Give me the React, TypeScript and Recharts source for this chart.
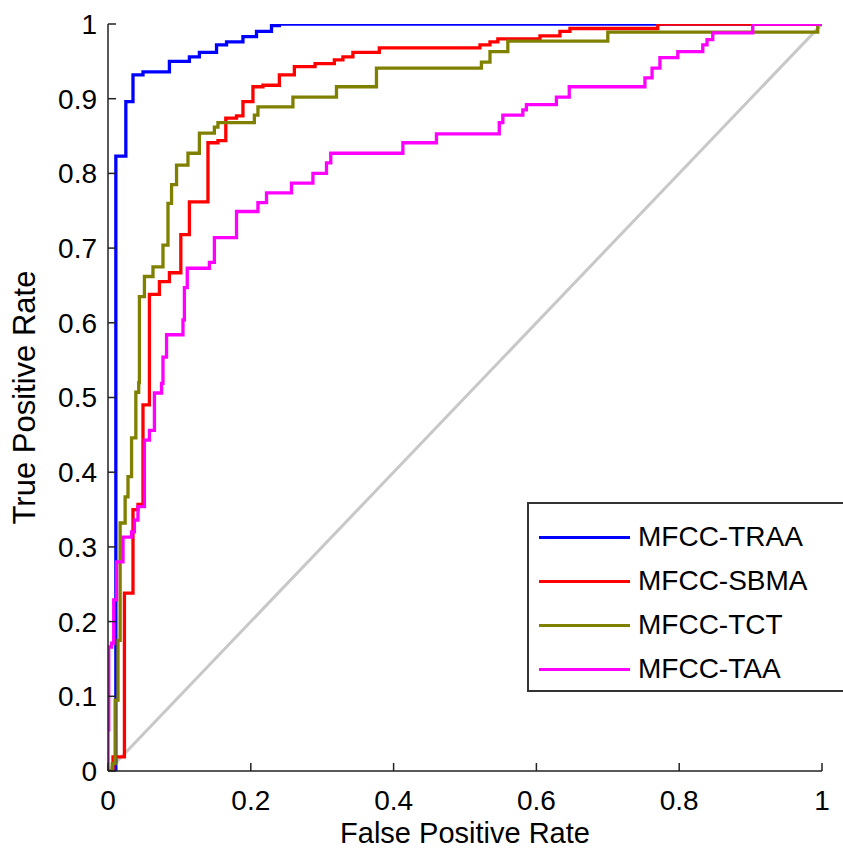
import { LineChart, Line, XAxis, YAxis, Legend } from 'recharts';

// ROC corner points [fpr, tpr]; drawn as stepAfter staircases
const traa = [
  [0, 0], [0.011, 0.823], [0.025, 0.896], [0.035, 0.932], [0.049, 0.936],
  [0.086, 0.95], [0.114, 0.956], [0.128, 0.962], [0.152, 0.972], [0.166, 0.976],
  [0.189, 0.983], [0.208, 0.99], [0.229, 0.998], [0.24, 1], [1, 1],
];

const sbma = [
  [0, 0], [0.007, 0.019], [0.023, 0.238], [0.035, 0.35], [0.042, 0.357],
  [0.049, 0.49], [0.058, 0.638], [0.072, 0.655], [0.086, 0.667], [0.102, 0.718],
  [0.114, 0.762], [0.14, 0.841], [0.154, 0.844], [0.165, 0.874], [0.18, 0.877],
  [0.189, 0.896], [0.203, 0.916], [0.217, 0.918], [0.24, 0.932], [0.261, 0.943],
  [0.29, 0.947], [0.317, 0.952], [0.329, 0.956], [0.343, 0.962], [0.38, 0.968],
  [0.521, 0.972], [0.535, 0.976], [0.546, 0.98], [0.605, 0.984], [0.633, 0.99],
  [0.647, 0.994], [0.77, 1], [1, 1],
];

const tct = [
  [0, 0], [0.006, 0.01], [0.01, 0.095], [0.014, 0.175], [0.017, 0.332],
  [0.024, 0.367], [0.028, 0.394], [0.033, 0.446], [0.039, 0.507], [0.043, 0.52],
  [0.044, 0.635], [0.051, 0.662], [0.063, 0.675], [0.077, 0.704], [0.084, 0.76],
  [0.089, 0.785], [0.096, 0.811], [0.112, 0.827], [0.128, 0.854], [0.149, 0.862],
  [0.154, 0.868], [0.205, 0.878], [0.21, 0.889], [0.259, 0.902], [0.32, 0.916],
  [0.376, 0.941], [0.523, 0.949], [0.535, 0.963], [0.56, 0.977], [0.7, 0.989],
  [0.994, 1], [1, 1],
];

const taa = [
  [0, 0], [0, 0.055], [0.001, 0.166], [0.005, 0.171], [0.008, 0.229],
  [0.012, 0.28], [0.021, 0.313], [0.033, 0.32], [0.037, 0.336], [0.042, 0.354],
  [0.051, 0.443], [0.058, 0.456], [0.065, 0.506], [0.075, 0.519], [0.077, 0.554],
  [0.082, 0.584], [0.105, 0.604], [0.107, 0.647], [0.111, 0.673], [0.142, 0.681],
  [0.149, 0.714], [0.18, 0.749], [0.21, 0.761], [0.222, 0.774], [0.257, 0.787],
  [0.287, 0.8], [0.306, 0.814], [0.312, 0.827], [0.413, 0.841], [0.46, 0.853],
  [0.548, 0.868], [0.553, 0.878], [0.581, 0.885], [0.586, 0.892], [0.628, 0.902],
  [0.646, 0.916], [0.752, 0.928], [0.762, 0.941], [0.773, 0.955], [0.798, 0.963],
  [0.833, 0.972], [0.839, 0.979], [0.847, 0.988], [0.903, 1], [1, 1],
];

const chance = [[0, 0], [1, 1]];

const xTicks = [0, 0.2, 0.4, 0.6, 0.8, 1];
const yTicks = [0, 0.1, 0.2, 0.3, 0.4, 0.5, 0.6, 0.7, 0.8, 0.9, 1];

const series = [
  { name: 'MFCC-TRAA', color: '#0000ff', points: traa },
  { name: 'MFCC-SBMA', color: '#ff0000', points: sbma },
  { name: 'MFCC-TCT', color: '#808000', points: tct },
  { name: 'MFCC-TAA', color: '#ff00ff', points: taa },
];

const toRows = (pts: number[][]) => pts.map(([x, y]) => ({ x, y }));

const FONT = '"Liberation Sans", Arial, sans-serif';

function LegendBox(props: any) {
  const names = series.map((s) => s.name);
  const items = (props.payload || [])
    .filter((p: any) => p.type !== 'none' && names.includes(p.value))
    .sort((a: any, b: any) => names.indexOf(a.value) - names.indexOf(b.value));
  return (
    <div
      style={{
        boxSizing: 'border-box',
        width: 316,
        height: 190,
        background: '#fff',
        borderTop: '2px solid #333',
        borderLeft: '2px solid #333',
        borderBottom: '2px solid #333',
        paddingTop: 11,
        fontFamily: FONT,
        fontSize: 28,
        color: '#000',
      }}
    >
      {items.map((it: any) => (
        <div key={it.value} style={{ height: 44, display: 'flex', alignItems: 'center' }}>
          <div style={{ marginLeft: 10, width: 91, height: 3, background: it.color }} />
          <span style={{ marginLeft: 8, lineHeight: '44px' }}>{it.value}</span>
        </div>
      ))}
    </div>
  );
}

export default function App() {
  const tickStyle = { fontFamily: FONT, fontSize: 28, fill: '#000' };
  return (
    <div style={{ position: 'absolute', left: 0, top: 0, width: 843, height: 852, background: '#fff' }}>
      <LineChart width={843} height={852} margin={{ top: 24, right: 21, bottom: 5, left: 0 }}>
        <XAxis
          type="number"
          dataKey="x"
          domain={[0, 1]}
          ticks={xTicks}
          interval={0}
          allowDataOverflow
          height={76}
          tickSize={-8}
          tickMargin={27}
          tick={tickStyle}
          stroke="#222"
          strokeWidth={1.5}
          label={{ value: 'False Positive Rate', position: 'insideBottom', offset: 4, style: { fontFamily: FONT, fontSize: 29, fill: '#000' } }}
        />
        <YAxis
          type="number"
          dataKey="y"
          domain={[0, 1]}
          ticks={yTicks}
          interval={0}
          allowDataOverflow
          width={108}
          tickSize={-8}
          tickMargin={19}
          tick={tickStyle}
          stroke="#222"
          strokeWidth={1.5}
          label={{ value: 'True Positive Rate', angle: -90, position: 'insideLeft', offset: 24, style: { fontFamily: FONT, fontSize: 31, fill: '#000', textAnchor: 'middle' } }}
        />
        <Line
          data={toRows(chance)}
          dataKey="y"
          type="linear"
          stroke="#c8c8c8"
          strokeWidth={3}
          dot={false}
          legendType="none"
          isAnimationActive={false}
        />
        {series.map((s) => (
          <Line
            key={s.name}
            name={s.name}
            data={toRows(s.points)}
            dataKey="y"
            type="stepAfter"
            stroke={s.color}
            strokeWidth={3.3}
            dot={false}
            isAnimationActive={false}
          />
        ))}
        <Legend
          layout="vertical"
          align="center"
          verticalAlign="middle"
          content={<LegendBox />}
          wrapperStyle={{ left: 527, top: 502, width: 316, height: 190 }}
        />
      </LineChart>
    </div>
  );
}
